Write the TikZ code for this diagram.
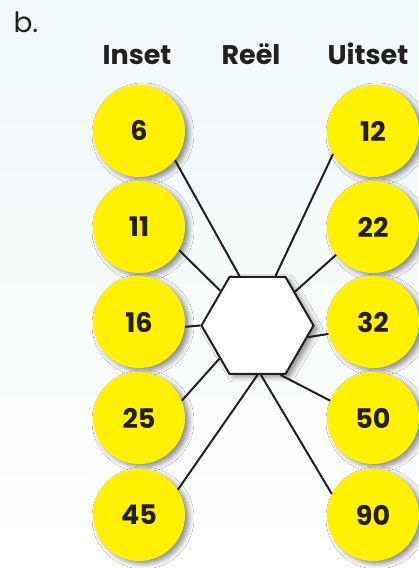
\documentclass[tikz,border=0pt]{standalone}
\usepackage{fontspec}
\setmainfont{Poppins}
\usepackage{xcolor}
\definecolor{balyellow}{RGB}{255,241,0}
\definecolor{bgblue}{RGB}{240,248,250}
\definecolor{lyngray}{RGB}{35,31,32}
\usetikzlibrary{shapes.geometric,shadows.blur}

\begin{document}
\begin{tikzpicture}[x=1pt, y=1pt,
        numbal/.style={circle, fill=balyellow, minimum size=92pt, inner sep=0pt,
                       font=\fontsize{27}{30}\selectfont\bfseries, text=lyngray,
                       blur shadow={shadow xshift=4pt, shadow yshift=-3pt,
                                    shadow blur radius=5pt, shadow opacity=45}},
        hexbox/.style={regular polygon, regular polygon sides=6, minimum size=112pt,
                       inner sep=0pt, fill=white, draw=lyngray, line width=2pt,
                       blur shadow={shadow xshift=4pt, shadow yshift=-3pt,
                                    shadow blur radius=5pt, shadow opacity=45}},
        kop/.style={font=\fontsize{27}{30}\selectfont\bfseries, text=lyngray, anchor=base},
        lyn/.style={line width=2pt, lyngray}
      ]
        % agtergrond
        \shade[top color=bgblue, bottom color=white] (0,0) rectangle (419,568);

        \node[font=\fontsize{28}{30}\selectfont, text=lyngray, anchor=base west] (deel) at (10,535) {b.};
        \node[kop] (inset)  at (137,503) {Inset};
        \node[kop] (reel)   at (251,503) {Reël};
        \node[kop] (uitset) at (368,503) {Uitset};

        \node[hexbox] (masjien) at (257.5,242.5) {};

        \node[numbal] (in1) at (139,437) {6};
        \node[numbal] (in2) at (139,341) {11};
        \node[numbal] (in3) at (139,246) {16};
        \node[numbal] (in4) at (139,150) {25};
        \node[numbal] (in5) at (139,53)  {45};

        \node[numbal] (uit1) at (373,437) {12};
        \node[numbal] (uit2) at (373,341) {22};
        \node[numbal] (uit3) at (373,246) {32};
        \node[numbal] (uit4) at (373,150) {50};
        \node[numbal] (uit5) at (373,53)  {90};

        \draw[lyn] (in1.-39)  -- (masjien.110);
        \draw[lyn] (in2.-30)  -- (masjien.137);
        \draw[lyn] (in3.-6)   -- (masjien.180);
        \draw[lyn] (in4.22)   -- (masjien.-139);
        \draw[lyn] (in5.33)   -- (masjien.-90);

        \draw[lyn] (uit1.-150) -- (masjien.70);
        \draw[lyn] (uit2.-143) -- (masjien.42);
        \draw[lyn] (uit3.195)  -- (masjien.-13);
        \draw[lyn] (uit4.158)  -- (masjien.-65);
        \draw[lyn] (uit5.153)  -- (masjien.-86);
      \end{tikzpicture}
\end{document}
